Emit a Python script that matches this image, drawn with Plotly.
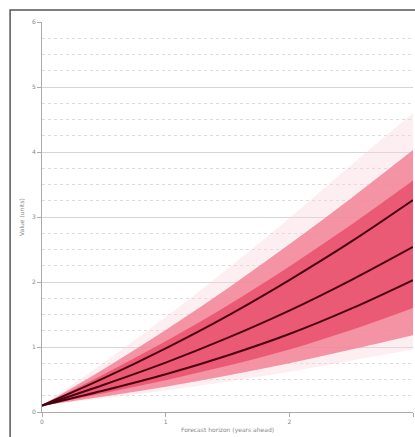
import plotly.graph_objects as go

# data
x_vals = [0, 0.5, 1.0, 1.5, 2.0, 2.5, 3.0]
faint_hi = [0.1, 0.76, 1.46, 2.2, 2.98, 3.8, 4.6]
outer_hi = [0.1, 0.66, 1.26, 1.90, 2.58, 3.29, 4.03]
inner_hi = [0.1, 0.58, 1.09, 1.64, 2.24, 2.88, 3.56]
line_hi = [0.1, 0.52, 0.98, 1.48, 2.03, 2.62, 3.26]
line_mid = [0.1, 0.42, 0.76, 1.14, 1.56, 2.03, 2.54]
line_lo = [0.1, 0.33, 0.58, 0.87, 1.20, 1.59, 2.03]
inner_lo = [0.1, 0.29, 0.49, 0.71, 0.96, 1.26, 1.60]
outer_lo = [0.1, 0.24, 0.39, 0.56, 0.75, 0.96, 1.18]
faint_lo = [0.1, 0.21, 0.33, 0.47, 0.62, 0.79, 0.96]
y_ticks = [0, 1, 2, 3, 4, 5, 6]
x_ticks = [0, 1, 2, 3]

fig = go.Figure()

def band(lo, hi, color):
    fig.add_trace(go.Scatter(x=x_vals, y=lo, mode="lines", line=dict(width=0, shape="spline"),
                             showlegend=False, hoverinfo="skip"))
    fig.add_trace(go.Scatter(x=x_vals, y=hi, mode="lines", line=dict(width=0, shape="spline"),
                             fill="tonexty", fillcolor=color, showlegend=False, hoverinfo="skip"))

band(faint_lo, faint_hi, "rgba(250,215,220,0.4)")
band(outer_lo, outer_hi, "rgba(242,130,150,0.85)")
band(inner_lo, inner_hi, "rgba(230,60,90,0.65)")

for ys in (line_hi, line_mid, line_lo):
    fig.add_trace(go.Scatter(x=x_vals, y=ys, mode="lines",
                             line=dict(color="#4a0010", width=2, shape="spline"),
                             showlegend=False))

fig.update_layout(
    width=415, height=437,
    margin=dict(l=42, r=2, t=22, b=25),
    paper_bgcolor="white", plot_bgcolor="white",
    font=dict(family="DejaVu Sans", size=6, color="#888888"),
    xaxis=dict(range=[0, 3], tickvals=x_ticks, ticks="outside", ticklen=4, tickcolor="#aaaaaa",
               showline=True, linecolor="#aaaaaa", showgrid=False, zeroline=False,
               tickfont=dict(color="#888888"),
               title=dict(text="Forecast horizon (years ahead)", standoff=3,
                          font=dict(size=6, color="#888888"))),
    yaxis=dict(range=[0, 6], tickvals=y_ticks, ticks="outside", ticklen=4, tickcolor="#aaaaaa",
               showline=True, linecolor="#aaaaaa", gridcolor="#d4d4d4", gridwidth=1,
               zeroline=False, tickfont=dict(color="#888888"),
               minor=dict(dtick=0.25, showgrid=True, gridcolor="#dcdcdc", griddash="dot",
                          ticks=""),
               title=dict(text="Value (units)", standoff=6, font=dict(size=6, color="#888888"))),
    shapes=[dict(type="rect", xref="paper", yref="paper", x0=-0.086, x1=1.05, y0=-0.07, y1=1.031,
                 line=dict(color="#555555", width=1.5))],
)

fig.write_html("out.html", config={"displayModeBar": False},
               post_script="document.body.style.margin='0';document.body.style.overflow='hidden';")
